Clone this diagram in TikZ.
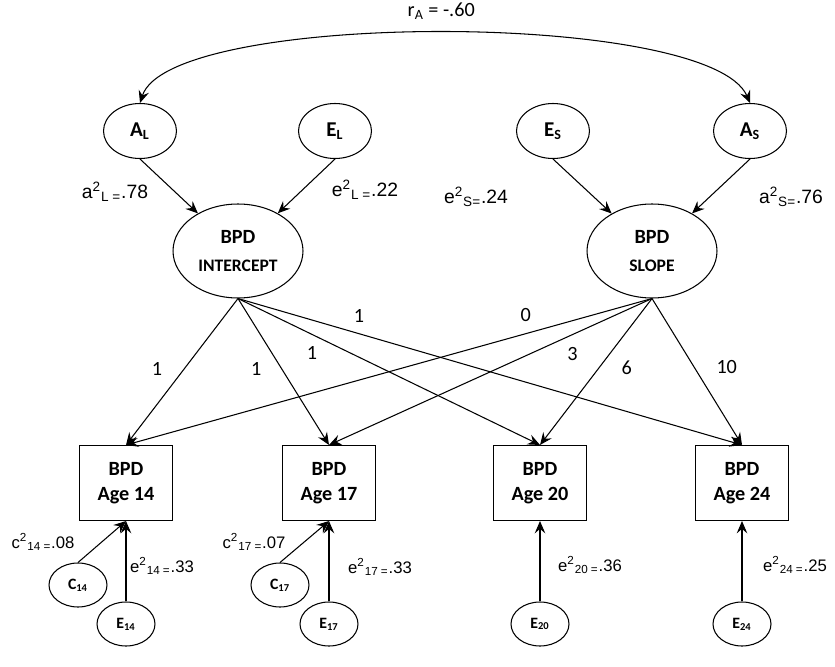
\documentclass[tikz,border=0pt]{standalone}
\usepackage{fontspec}
\setmainfont{Carlito}
\newfontfamily\arialfont{Liberation Sans}
\usetikzlibrary{shapes.geometric,arrows.meta}

\tikzset{
  latent/.style={draw,ellipse,minimum width=1.46cm,minimum height=1.1cm,inner sep=0pt,font=\fontsize{12}{14}\selectfont\bfseries},
  growth/.style={draw,ellipse,minimum width=2.6cm,minimum height=1.88cm,inner sep=0pt,align=center,font=\fontsize{11.5}{16}\selectfont\bfseries},
  measure/.style={draw,rectangle,minimum width=1.86cm,minimum height=1.5cm,align=center,font=\fontsize{11.5}{14}\selectfont\bfseries},
  resid/.style={draw,ellipse,minimum width=1.16cm,minimum height=0.88cm,inner sep=0pt,font=\fontsize{9}{10}\selectfont\bfseries},
  coef/.style={font=\arialfont\fontsize{11}{13}\selectfont},
  coefsm/.style={font=\arialfont\fontsize{9.5}{11}\selectfont},
  load/.style={font=\fontsize{11.5}{13}\selectfont}
}

\begin{document}
\begin{tikzpicture}[x=0.02cm,y=-0.02cm,>={Stealth[length=7pt,width=6pt,inset=2.5pt]},line width=0.6pt]
  \useasboundingbox (0,0) rectangle (835,666);
  % variance components of the growth factors
  \node[latent] (AL) at (140,131) {A\textsubscript{L}};
  \node[latent] (EL) at (335,131) {E\textsubscript{L}};
  \node[latent] (ES) at (553,131) {E\textsubscript{S}};
  \node[latent] (AS) at (750,131) {A\textsubscript{S}};
  \draw[<->] (AL.north) .. controls (170,10) and (710,10) .. node[load,pos=.5,above=4pt] (rA) {r\textsubscript{A} = -.60} (AS.north);
  % growth factors
  \node[growth] (int) at (238,251) {BPD\\{\fontsize{10}{16}\selectfont INTERCEPT}};
  \node[growth] (slp) at (652,251) {BPD\\{\fontsize{10}{16}\selectfont SLOPE}};
  \draw[->] (AL.south) -- (int);
  \draw[->] (EL.south) -- (int);
  \draw[->] (ES.south) -- (slp);
  \draw[->] (AS.south) -- (slp);
  \node[coef] (aL) at (115,192) {a\textsuperscript{2}\textsubscript{L =}.78};
  \node[coef] (eL) at (365,190) {e\textsuperscript{2}\textsubscript{L =}.22};
  \node[coef] (eS) at (476,197) {e\textsuperscript{2}\textsubscript{S=}.24};
  \node[coef] (aS) at (791,197) {a\textsuperscript{2}\textsubscript{S=}.76};
  % observed measures
  \node[measure] (b14) at (126,483) {BPD\\Age 14};
  \node[measure] (b17) at (329,483) {BPD\\Age 17};
  \node[measure] (b20) at (540,483) {BPD\\Age 20};
  \node[measure] (b24) at (742,483) {BPD\\Age 24};
  % factor loadings
  \draw[->] (int.south) -- node[load,pos=.48,left=9pt] (li14) {1} (b14.north);
  \draw[->] (int.south) -- node[load,pos=.48,left=8pt] (li17) {1} (b17.north);
  \draw[->] (int.south) -- node[load,pos=.37,left=15pt] (li20) {1} (b20.north);
  \draw[->] (int.south) -- node[load,pos=.24,above=3pt] (li24) {1} (b24.north);
  \draw[->] (slp.south) -- node[load,pos=.24,above=3pt] (ls14) {0} (b14.north);
  \draw[->] (slp.south) -- node[load,pos=.38,right=18pt] (ls17) {3} (b17.north);
  \draw[->] (slp.south) -- node[load,pos=.47,right=9pt] (ls20) {6} (b20.north);
  \draw[->] (slp.south) -- node[load,pos=.47,right=9pt] (ls24) {10} (b24.north);
  % residual components
  \node[resid] (C14) at (78,585) {C\textsubscript{14}};
  \node[resid] (E14) at (126,624) {E\textsubscript{14}};
  \node[resid] (C17) at (280,585) {C\textsubscript{17}};
  \node[resid] (E17) at (329,624) {E\textsubscript{17}};
  \node[resid] (E20) at (540,624) {E\textsubscript{20}};
  \node[resid] (E24) at (742,624) {E\textsubscript{24}};
  \draw[->] (C14.north) -- (b14.south);
  \draw[->] (E14.north) -- (b14.south);
  \draw[->] (C17.north) -- (b17.south);
  \draw[->] (E17.north) -- (b17.south);
  \draw[->] (E20.north) -- (b20.south);
  \draw[->] (E24.north) -- (b24.south);
  \node[coefsm] (c14) at (43,542) {c\textsuperscript{2}\textsubscript{14 =}.08};
  \node[coefsm] (e14) at (162,566) {e\textsuperscript{2}\textsubscript{14 =}.33};
  \node[coefsm] (c17) at (254,542) {c\textsuperscript{2}\textsubscript{17 =}.07};
  \node[coefsm] (e17) at (380,567) {e\textsuperscript{2}\textsubscript{17 =}.33};
  \node[coefsm] (e20) at (590,565) {e\textsuperscript{2}\textsubscript{20 =}.36};
  \node[coefsm] (e24) at (795,565) {e\textsuperscript{2}\textsubscript{24 =}.25};
\end{tikzpicture}
\end{document}
